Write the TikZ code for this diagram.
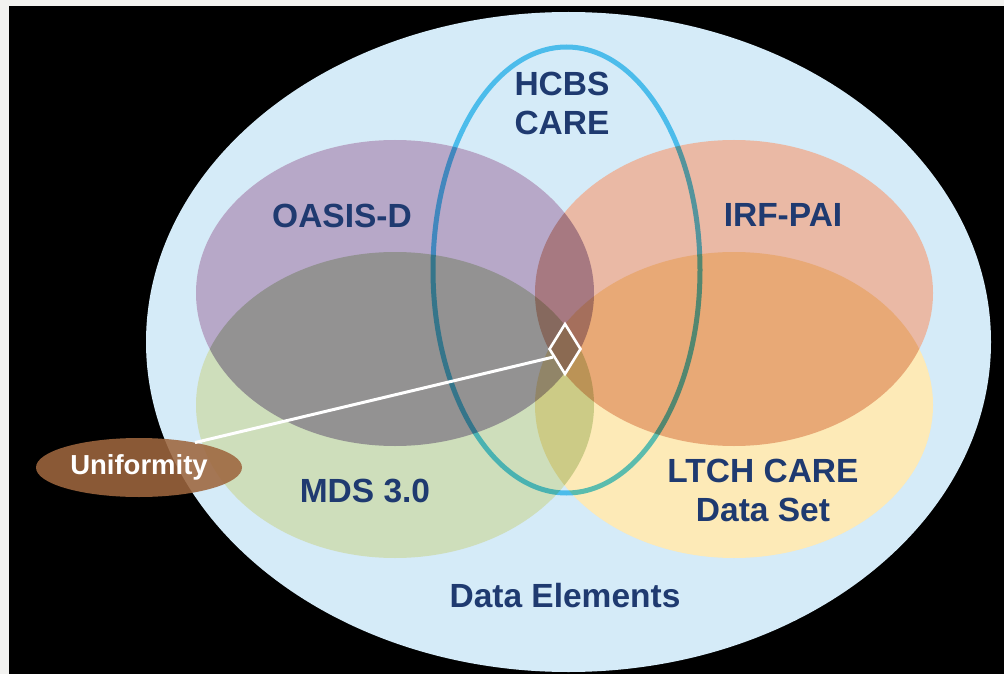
\documentclass[tikz,border=0pt]{standalone}
\usepackage{fontspec}
\setmainfont{Liberation Sans}
\usetikzlibrary{shapes.geometric}
\definecolor{pagegray}{RGB}{242,242,240}
\definecolor{outerblue}{RGB}{213,235,248}
\definecolor{oasis}{RGB}{183,168,200}
\definecolor{mds}{RGB}{206,222,187}
\definecolor{irf}{RGB}{234,185,165}
\definecolor{ltch}{RGB}{253,234,183}
\definecolor{ringblue}{RGB}{92,205,242}
\definecolor{navy}{RGB}{31,58,112}
\definecolor{unibrown}{RGB}{158,102,62}
\definecolor{diafill}{RGB}{139,106,82}
\begin{document}
\begin{tikzpicture}[x=1pt,y=-1pt,
  lbl/.style={font=\fontsize{33.5}{39}\selectfont\bfseries, text=navy, inner sep=0pt, align=center},
  setshape/.style={x radius=199pt, y radius=153pt},
  diabox/.style={diamond, draw=white, line width=2.6pt, fill=diafill, minimum width=32pt, minimum height=51pt, inner sep=0pt},
  unibox/.style={ellipse, fill=unibrown, fill opacity=0.88, text opacity=1, text=white, minimum width=206pt, minimum height=59pt, inner sep=0pt, font=\fontsize{27.5}{32}\selectfont\bfseries},
  link/.style={draw=white, line width=3pt}
]
\useasboundingbox (0,0) rectangle (1004,674);
\fill[pagegray] (0,0) rectangle (1004,674);
\fill[black] (9,6) rectangle (1004,674);
% outer data elements ellipse
\fill[outerblue] (568.5,342) ellipse [x radius=422.5pt, y radius=330pt];
% white base under the four sets
\fill[white] (395,293) ellipse [setshape];
\fill[white] (395,405) ellipse [setshape];
\fill[white] (734,293) ellipse [setshape];
\fill[white] (734,405) ellipse [setshape];
\begin{scope}[blend mode=multiply]
  \fill[oasis] (395,293) ellipse [setshape];
  \fill[mds] (395,405) ellipse [setshape];
  \fill[irf] (734,293) ellipse [setshape];
  \fill[ltch] (734,405) ellipse [setshape];
  \draw[ringblue, line width=5pt] (566.5,270) ellipse [x radius=133.5pt, y radius=223pt];
\end{scope}
% labels
\node[lbl] (hcbs) at (562,103) {HCBS\\CARE};
\node[lbl, anchor=base] (oasisl) at (342,227) {OASIS-D};
\node[lbl, anchor=base] (irfl) at (783,226) {IRF-PAI};
\node[lbl, anchor=base] (mdsl) at (365,502) {MDS 3.0};
\node[lbl] (ltchl) at (763,490.5) {LTCH CARE\\Data Set};
\node[lbl, anchor=base] (datal) at (565,607) {Data Elements};
% uniformity
\node[diabox] (dia) at (565,349) {};
\node[unibox] (uni) at (139,467.5) {Uniformity};
\draw[link] (dia.214) -- (uni.24);
\end{tikzpicture}
\end{document}
